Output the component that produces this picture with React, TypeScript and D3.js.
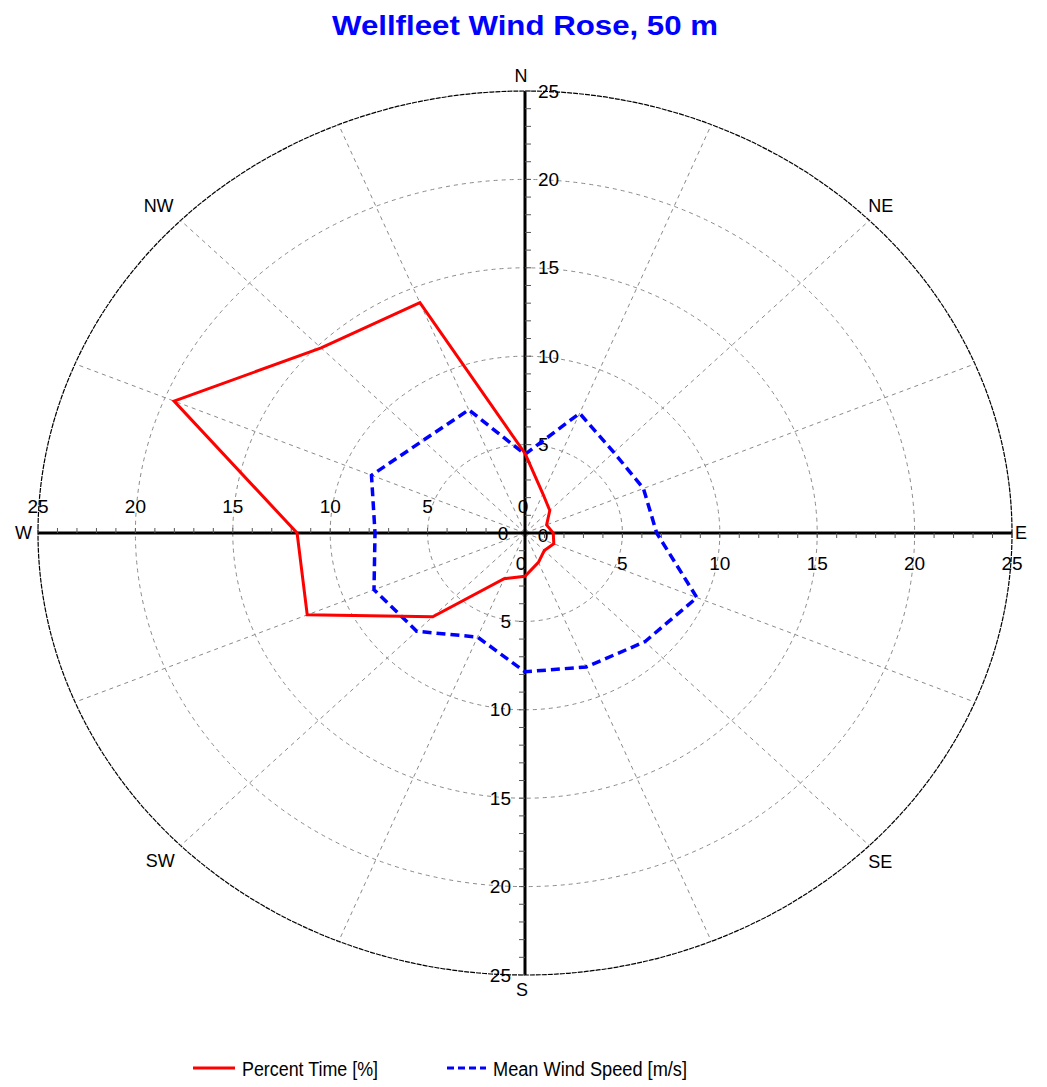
import React, { useEffect, useRef } from "react";
import * as d3 from "d3";

const directions = ["N", "NNE", "NE", "ENE", "E", "ESE", "SE", "SSE", "S", "SSW", "SW", "WSW", "W", "WNW", "NW", "NNW"];
const percentTime = [4.5, 2.4, 1.8, 1.2, 1.45, 1.6, 1.4, 1.8, 2.45, 2.8, 6.7, 12.1, 11.7, 19.5, 14.8, 14.1];
const meanSpeed = [4.45, 7.33, 6.45, 6.58, 6.76, 9.55, 8.7, 8.2, 7.85, 6.37, 7.86, 8.39, 7.7, 8.53, 7.4, 7.54];
const ringValues = [5, 10, 15, 20, 25];
const tickLabels = [0, 5, 10, 15, 20, 25];
const compassLabels = ["N", "NE", "E", "SE", "S", "SW", "W", "NW"];

function WindRose() {
  const svgRef = useRef<SVGSVGElement | null>(null);

  useEffect(() => {
    const width = 1047;
    const height = 1087;
    const cx = 525;
    const cy = 533;
    const font = "'Liberation Sans', Arial, sans-serif";

    const svg = d3.select(svgRef.current);
    svg.selectAll("*").remove();
    svg.attr("width", width).attr("height", height);

    // elliptical radial scales (the picture is stretched horizontally)
    const rx = d3.scaleLinear().domain([0, 25]).range([0, 487]);
    const ry = d3.scaleLinear().domain([0, 25]).range([0, 442]);
    const angle = d3.scaleLinear().domain([0, directions.length]).range([0, 2 * Math.PI]);

    const px = (v: number, a: number) => cx + rx(v) * Math.sin(a);
    const py = (v: number, a: number) => cy - ry(v) * Math.cos(a);

    const g = svg.append("g");

    // rings
    ringValues.forEach((v) => {
      g.append("ellipse")
        .attr("cx", cx)
        .attr("cy", cy)
        .attr("rx", rx(v))
        .attr("ry", ry(v))
        .attr("fill", "none")
        .attr("stroke", v === 25 ? "#000" : "#8a8a8a")
        .attr("stroke-width", v === 25 ? 1.2 : 1)
        .attr("stroke-dasharray", v === 25 ? "5,1" : "4,4");
    });

    // radial spokes
    directions.forEach((d, i) => {
      if (i % 4 === 0) return;
      const a = angle(i);
      g.append("line")
        .attr("x1", cx)
        .attr("y1", cy)
        .attr("x2", px(25, a))
        .attr("y2", py(25, a))
        .attr("stroke", "#8a8a8a")
        .attr("stroke-width", 1)
        .attr("stroke-dasharray", "4,4");
    });

    // axes
    g.append("line")
      .attr("x1", cx - rx(25)).attr("x2", cx + rx(25))
      .attr("y1", cy).attr("y2", cy)
      .attr("stroke", "#000").attr("stroke-width", 3);
    g.append("line")
      .attr("x1", cx).attr("x2", cx)
      .attr("y1", cy - ry(25)).attr("y2", cy + ry(25))
      .attr("stroke", "#000").attr("stroke-width", 3);

    // minor ticks every unit
    const units = d3.range(1, 26);
    units.forEach((u) => {
      g.append("line").attr("x1", cx).attr("x2", cx + 6).attr("y1", cy - ry(u)).attr("y2", cy - ry(u)).attr("stroke", "#555");
      g.append("line").attr("x1", cx - 6).attr("x2", cx).attr("y1", cy + ry(u)).attr("y2", cy + ry(u)).attr("stroke", "#555");
      g.append("line").attr("x1", cx - rx(u)).attr("x2", cx - rx(u)).attr("y1", cy - 5).attr("y2", cy).attr("stroke", "#555");
      g.append("line").attr("x1", cx + rx(u)).attr("x2", cx + rx(u)).attr("y1", cy).attr("y2", cy + 5).attr("stroke", "#555");
    });

    // tick labels
    const lab = g.append("g")
      .attr("font-family", font)
      .attr("font-size", 19)
      .attr("fill", "#000")
      .attr("dominant-baseline", "central");

    tickLabels.forEach((v) => {
      if (v === 0) {
        lab.append("text").attr("x", cx - 2).attr("y", cy - 27).attr("text-anchor", "middle").text(v);
        lab.append("text").attr("x", cx - 22).attr("y", cy).attr("text-anchor", "middle").text(v);
        lab.append("text").attr("x", cx + 18).attr("y", cy + 2).attr("text-anchor", "middle").text(v);
        lab.append("text").attr("x", cx - 4).attr("y", cy + 30).attr("text-anchor", "middle").text(v);
        return;
      }
      lab.append("text").attr("x", cx + 13).attr("y", cy - ry(v)).attr("text-anchor", "start").text(v);
      lab.append("text").attr("x", cx - 14).attr("y", cy + ry(v)).attr("text-anchor", "end").text(v);
      lab.append("text").attr("x", cx - rx(v)).attr("y", cy - 27).attr("text-anchor", "middle").text(v);
      lab.append("text").attr("x", cx + rx(v)).attr("y", cy + 30).attr("text-anchor", "middle").text(v);
    });

    // compass labels
    compassLabels.forEach((name, i) => {
      const a = (i * Math.PI) / 4;
      const ex = px(25, a);
      const ey = py(25, a);
      let x = ex, y = ey, anchor = "middle";
      if (name === "N") { x = ex - 4; y = ey - 15; }
      else if (name === "S") { x = ex - 3; y = ey + 15; }
      else if (name === "E") { x = ex + 3; anchor = "start"; }
      else if (name === "W") { x = ex - 6; anchor = "end"; }
      else if (name === "NE") { x = ex - 1; y = ey - 14; anchor = "start"; }
      else if (name === "SE") { x = ex - 1; y = ey + 16; anchor = "start"; }
      else if (name === "NW") { x = ex - 7; y = ey - 14; anchor = "end"; }
      else if (name === "SW") { x = ex - 6; y = ey + 15; anchor = "end"; }
      lab.append("text").attr("x", x).attr("y", y).attr("text-anchor", anchor).attr("font-size", 18).text(name);
    });

    // series
    const line = d3
      .line<number>()
      .x((v, i) => px(v, angle(i)))
      .y((v, i) => py(v, angle(i)))
      .curve(d3.curveLinearClosed);

    g.append("path")
      .attr("d", line(meanSpeed))
      .attr("fill", "none")
      .attr("stroke", "#0000ff")
      .attr("stroke-width", 3.5)
      .attr("stroke-dasharray", "9,5");

    g.append("path")
      .attr("d", line(percentTime))
      .attr("fill", "none")
      .attr("stroke", "#ff0000")
      .attr("stroke-width", 3);

    // title
    svg.append("text")
      .attr("x", cx)
      .attr("y", 35)
      .attr("text-anchor", "middle")
      .attr("font-family", font)
      .attr("font-weight", "bold")
      .attr("font-size", 28)
      .attr("fill", "#0000ff")
      .attr("textLength", 386)
      .attr("lengthAdjust", "spacingAndGlyphs")
      .text("Wellfleet Wind Rose, 50 m");

    // legend
    const leg = svg.append("g").attr("font-family", font).attr("font-size", 20);
    leg.append("line").attr("x1", 193).attr("x2", 235).attr("y1", 1068).attr("y2", 1068)
      .attr("stroke", "#ff0000").attr("stroke-width", 3);
    leg.append("text").attr("x", 242).attr("y", 1076)
      .attr("textLength", 136).attr("lengthAdjust", "spacingAndGlyphs")
      .text("Percent Time [%]");
    leg.append("line").attr("x1", 447).attr("x2", 486).attr("y1", 1068).attr("y2", 1068)
      .attr("stroke", "#0000ff").attr("stroke-width", 3).attr("stroke-dasharray", "7,4");
    leg.append("text").attr("x", 493).attr("y", 1076)
      .attr("textLength", 194).attr("lengthAdjust", "spacingAndGlyphs")
      .text("Mean Wind Speed [m/s]");
  }, []);

  return <svg ref={svgRef} style={{ position: "absolute", left: 0, top: 0, background: "#fff" }}></svg>;
}

export default function App() {
  return <WindRose />;
}
